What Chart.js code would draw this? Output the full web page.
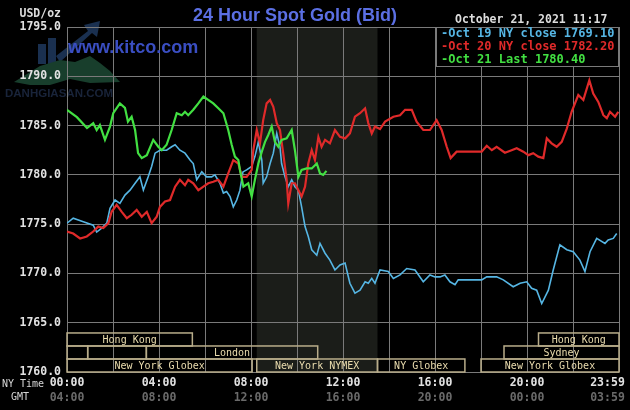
<!DOCTYPE html>
<html>
<head>
<meta charset="utf-8">
<script src="https://cdn.jsdelivr.net/npm/chart.js@4.4.1/dist/chart.umd.min.js"></script>
<style>
  html, body { margin: 0; padding: 0; background: #000; }
  canvas { display: block; }
</style>
</head>
<body>
<canvas id="gold-chart" width="630" height="410"></canvas>
<script>
// hours are New York time, prices in USD/oz
const oct19Hours = [0.00,0.27,0.71,1.14,1.29,1.51,1.73,1.87,2.09,2.30,2.52,2.74,2.96,3.17,3.32,3.53,3.68,3.83,4.04,4.33,4.55,4.70,4.91,5.13,5.35,5.49,5.64,5.86,6.07,6.29,6.43,6.65,6.80,6.94,7.09,7.23,7.38,7.52,7.65,7.81,8.03,8.17,8.32,8.47,8.53,8.68,8.83,8.97,9.12,9.26,9.33,9.48,9.62,9.77,9.91,10.06,10.20,10.35,10.49,10.64,10.86,11.00,11.22,11.43,11.65,11.87,12.09,12.30,12.52,12.74,12.96,13.10,13.25,13.39,13.61,13.97,14.19,14.48,14.77,15.13,15.49,15.78,16.00,16.22,16.43,16.65,16.87,17.01,18.03,18.25,18.68,18.97,19.40,19.70,19.99,20.20,20.42,20.64,20.93,21.14,21.43,21.73,22.01,22.30,22.52,22.74,23.03,23.39,23.53,23.75,23.90];
const oct19Prices = [1775.1,1775.6,1775.25,1774.9,1774.2,1774.6,1775.1,1776.6,1777.45,1777.1,1777.95,1778.45,1779.15,1779.8,1778.45,1779.8,1780.85,1782.2,1782.5,1782.5,1782.85,1783.05,1782.5,1782.2,1781.5,1781.15,1779.5,1780.3,1779.8,1779.8,1780.0,1779.15,1778.15,1778.3,1777.8,1776.75,1777.45,1778.45,1780.3,1780.5,1780.85,1781.85,1783.35,1781.5,1779.15,1779.8,1781.15,1782.2,1784.2,1782.85,1781.15,1779.8,1778.8,1779.5,1778.8,1778.45,1776.75,1774.75,1773.75,1772.4,1771.85,1773.05,1772.05,1771.35,1770.35,1770.85,1771.05,1769.0,1768.0,1768.3,1769.15,1769.0,1769.5,1769.0,1770.35,1770.2,1769.5,1769.85,1770.5,1770.35,1769.15,1769.85,1769.65,1769.65,1769.85,1769.15,1768.85,1769.35,1769.35,1769.65,1769.65,1769.35,1768.65,1769.0,1769.15,1768.5,1768.3,1766.95,1768.3,1770.35,1772.9,1772.4,1772.2,1771.35,1770.2,1772.2,1773.55,1773.05,1773.4,1773.55,1774.05];

const oct20Hours = [0.00,0.27,0.57,0.86,1.14,1.36,1.58,1.80,1.94,2.16,2.38,2.60,2.81,3.03,3.25,3.47,3.68,3.90,4.04,4.26,4.48,4.70,4.91,5.13,5.27,5.49,5.71,5.93,6.14,6.36,6.58,6.80,7.01,7.23,7.45,7.60,7.81,8.03,8.10,8.25,8.39,8.53,8.68,8.83,8.97,9.12,9.26,9.40,9.55,9.62,9.77,9.91,10.06,10.20,10.35,10.49,10.64,10.78,10.93,11.07,11.22,11.43,11.65,11.87,12.09,12.30,12.52,12.74,12.96,13.10,13.25,13.39,13.61,13.83,14.19,14.48,14.70,14.99,15.20,15.49,15.78,16.07,16.29,16.51,16.68,16.94,18.03,18.25,18.47,18.68,19.04,19.33,19.55,19.84,20.06,20.27,20.49,20.71,20.86,21.07,21.29,21.51,21.73,21.94,22.23,22.45,22.71,22.88,23.10,23.32,23.47,23.61,23.83,23.97];
const oct20Prices = [1774.25,1774.05,1773.55,1773.75,1774.25,1774.75,1774.6,1775.1,1776.25,1776.95,1776.25,1775.6,1775.95,1776.45,1775.75,1776.25,1775.1,1775.75,1776.75,1777.3,1777.45,1778.8,1779.5,1778.95,1779.5,1779.15,1778.45,1778.8,1779.15,1779.3,1779.5,1778.8,1780.15,1781.5,1781.15,1779.8,1779.8,1780.5,1782.5,1784.55,1783.2,1785.55,1787.25,1787.6,1786.9,1785.25,1784.55,1782.2,1779.5,1777.1,1779.15,1779.15,1778.45,1777.8,1778.8,1781.15,1782.5,1781.5,1783.85,1782.85,1783.55,1783.2,1784.55,1783.85,1783.7,1784.2,1785.9,1786.25,1786.75,1785.25,1784.2,1784.9,1784.65,1785.4,1785.9,1786.05,1786.6,1786.6,1785.4,1784.55,1784.55,1785.55,1784.55,1782.85,1781.7,1782.35,1782.35,1782.95,1782.5,1782.85,1782.25,1782.5,1782.7,1782.35,1782.0,1782.2,1781.85,1781.7,1783.7,1783.2,1782.85,1783.35,1784.7,1786.4,1788.1,1787.6,1789.6,1788.25,1787.4,1786.05,1785.75,1786.4,1785.9,1786.4];

const oct21Hours = [0.00,0.43,0.87,1.14,1.29,1.43,1.65,1.87,2.01,2.30,2.52,2.65,2.81,2.96,3.09,3.25,3.47,3.75,3.97,4.12,4.33,4.55,4.77,4.99,5.13,5.27,5.49,5.71,5.93,6.14,6.36,6.58,6.80,7.01,7.16,7.30,7.45,7.52,7.67,7.88,8.03,8.17,8.32,8.47,8.61,8.75,8.90,9.04,9.19,9.33,9.55,9.77,9.91,10.06,10.20,10.42,10.64,10.86,11.00,11.14,11.28];
const oct21Prices = [1786.6,1785.85,1784.75,1785.25,1784.55,1785.05,1783.55,1784.9,1786.25,1787.25,1786.8,1785.4,1785.9,1784.55,1782.2,1781.7,1782.0,1783.55,1782.85,1782.5,1783.05,1784.55,1786.25,1786.05,1786.4,1786.05,1786.6,1787.25,1787.95,1787.6,1787.25,1786.75,1786.25,1784.55,1783.05,1781.85,1781.5,1780.5,1778.8,1779.15,1777.8,1779.5,1781.15,1782.35,1783.35,1784.05,1784.9,1783.35,1782.85,1783.55,1783.7,1784.55,1782.5,1779.8,1780.5,1780.65,1780.65,1781.15,1780.15,1780.0,1780.4];

const seriesLabels = ['Oct 19 NY close 1769.10', 'Oct 20 NY close 1782.20', 'Oct 21 Last 1780.40'];

const tickHours = [0, 4, 8, 12, 16, 20, 23.5];   // last label is pulled inside the frame like the original
const nyTickLabels = ['00:00', '04:00', '08:00', '12:00', '16:00', '20:00', '23:59'];
const gmtTickLabels = ['04:00', '08:00', '12:00', '16:00', '20:00', '00:00', '03:59'];

// trading sessions strip: row 0 is the top row
const sessionNames = ['Hong Kong', 'Hong Kong', '', '', 'London', 'Sydney', 'New York Globex', 'New York NYMEX', 'NY Globex', 'New York Globex'];
const sessionRows  = [0, 0, 1, 1, 1, 1, 2, 2, 2, 2];
const sessionStart = [0, 20.5, 0, 0.9, 3.45, 19, 0, 8.25, 13.5, 18];
const sessionEnd   = [5.45, 24, 0.9, 3.45, 10.9, 24, 8.05, 13.5, 17.3, 24];
const nymexHours = [8.25, 13.5];

const MONO = '"DejaVu Sans Mono", "Liberation Mono", monospace';
const lineColors = ['#56b6e4', '#e02a2a', '#42e042'];

function pts(hours, prices) {
    return hours.map((h, i) => ({ x: h, y: prices[i] }));
}

const decor = {
    id: 'decor',
    beforeDraw(chart) {
        const { ctx, chartArea: a, scales: { x } } = chart;
        ctx.save();
        ctx.fillStyle = '#000';
        ctx.fillRect(0, 0, chart.width, chart.height);

        // faint watermark logo
        ctx.fillStyle = '#1a3050';
        ctx.fillRect(38, 44, 8, 20);
        ctx.fillRect(48, 38, 8, 26);
        ctx.beginPath();
        ctx.moveTo(56, 56); ctx.lineTo(88, 31); ctx.lineTo(84, 25); ctx.lineTo(100, 21);
        ctx.lineTo(97, 37); ctx.lineTo(92, 33); ctx.lineTo(60, 62); ctx.closePath();
        ctx.fill();
        ctx.fillStyle = '#183e2c';
        ctx.beginPath();
        ctx.moveTo(14, 82); ctx.lineTo(40, 66); ctx.lineTo(60, 60); ctx.lineTo(75, 62);
        ctx.lineTo(90, 56); ctx.lineTo(100, 63); ctx.lineTo(110, 71); ctx.lineTo(120, 82);
        ctx.lineTo(90, 83); ctx.lineTo(70, 79); ctx.lineTo(50, 85); ctx.lineTo(30, 85);
        ctx.closePath();
        ctx.fill();
        ctx.fillStyle = '#19243a';
        ctx.font = 'bold 11.5px "Liberation Sans", sans-serif';
        ctx.textBaseline = 'middle';
        ctx.fillText('DANHGIASAN.COM', 5, 94);

        // NYMEX session shading
        const x0 = x.getPixelForValue(nymexHours[0]);
        const x1 = x.getPixelForValue(nymexHours[1]);
        ctx.fillStyle = '#1b1d19';
        ctx.fillRect(x0, a.top, x1 - x0, a.bottom - a.top);
        ctx.restore();
    },
    beforeDatasetsDraw(chart) {
        const { ctx } = chart;
        ctx.save();
        ctx.fillStyle = '#3a4ec2';
        ctx.font = 'bold 18px "Liberation Sans", Arial, sans-serif';
        ctx.textBaseline = 'middle';
        ctx.fillText('www.kitco.com', 68, 48);
        ctx.restore();
    },
    afterDatasetsDraw(chart) {
        const { ctx, scales: { x, y } } = chart;
        const rowSpan = 1.32;
        ctx.save();
        ctx.strokeStyle = '#b9ad8a';
        ctx.lineWidth = 1.5;
        ctx.font = '10px ' + MONO;
        ctx.fillStyle = '#eadcae';
        ctx.textAlign = 'center';
        ctx.textBaseline = 'middle';
        for (let i = 0; i < sessionNames.length; i++) {
            const r = sessionRows[i];
            const top = y.getPixelForValue(1760 + (3 - r) * rowSpan);
            const bot = y.getPixelForValue(1760 + (2 - r) * rowSpan);
            const l = x.getPixelForValue(sessionStart[i]);
            const rt = x.getPixelForValue(sessionEnd[i]);
            ctx.strokeRect(l, top, rt - l, bot - top);
            if (sessionNames[i]) {
                ctx.fillText(sessionNames[i], (l + rt) / 2, (top + bot) / 2 + 0.5);
            }
        }
        ctx.restore();
    },
    afterDraw(chart) {
        const { ctx, chartArea: a } = chart;
        ctx.save();
        ctx.textBaseline = 'middle';

        // title and captions
        ctx.fillStyle = '#5b6fe3';
        ctx.font = 'bold 18px "Liberation Sans", Arial, sans-serif';
        ctx.textAlign = 'center';
        ctx.fillText('24 Hour Spot Gold (Bid)', 295, 16);

        ctx.font = 'bold 11.5px ' + MONO;
        ctx.fillStyle = '#dcdcdc';
        ctx.textAlign = 'right';
        ctx.fillText('USD/oz', 61, 14);
        ctx.textAlign = 'left';
        ctx.fillText('October 21, 2021 11:17', 455, 20);

        ctx.font = '10px ' + MONO;
        ctx.textAlign = 'center';
        ctx.fillStyle = '#d6d6d6';
        ctx.fillText('NY Time', 23, 384);
        ctx.fillText('GMT', 20, 397);

        // legend box
        const lx = a.right - 183, ly = a.top, lh = 39;
        ctx.fillStyle = '#000';
        ctx.fillRect(lx, ly, a.right - lx, lh);
        ctx.strokeStyle = '#7a7a7a';
        ctx.lineWidth = 1;
        ctx.strokeRect(lx + 0.5, ly + 0.5, a.right - lx - 1, lh);
        ctx.font = 'bold 12px ' + MONO;
        ctx.textAlign = 'left';
        chart.data.datasets.forEach((ds, i) => {
            ctx.fillStyle = ds.borderColor;
            ctx.fillText('-' + ds.label, lx + 5, ly + 7 + i * 12.7);
        });
        ctx.restore();
    }
};

const axisFont = { family: MONO, size: 11.5, weight: 'bold' };

new Chart(document.getElementById('gold-chart'), {
    type: 'line',
    data: {
        datasets: [
            { label: seriesLabels[0], data: pts(oct19Hours, oct19Prices), borderColor: lineColors[0], borderWidth: 1.6, order: 2 },
            { label: seriesLabels[1], data: pts(oct20Hours, oct20Prices), borderColor: lineColors[1], borderWidth: 2.2, order: 1 },
            { label: seriesLabels[2], data: pts(oct21Hours, oct21Prices), borderColor: lineColors[2], borderWidth: 2.2, order: 0 }
        ]
    },
    options: {
        responsive: false,
        animation: false,
        devicePixelRatio: 1,
        elements: { point: { radius: 0 }, line: { tension: 0 } },
        layout: { padding: { left: 0, right: 11, top: 27, bottom: 0 } },
        plugins: { legend: { display: false }, tooltip: { enabled: false } },
        scales: {
            x: {
                type: 'linear', position: 'bottom', weight: 0, min: 0, max: 24,
                grid: { display: false, drawTicks: false }, border: { display: false },
                afterBuildTicks: axis => { axis.ticks = tickHours.map(v => ({ value: v })); },
                afterFit: axis => { axis.height = 19; },
                ticks: { font: axisFont, color: '#e2e2e2', padding: 4, maxRotation: 0, autoSkip: false,
                    callback: (v, i) => nyTickLabels[i] }
            },
            x2: {
                type: 'linear', position: 'bottom', weight: 1, min: 0, max: 24,
                grid: { display: false, drawTicks: false }, border: { display: false },
                afterBuildTicks: axis => { axis.ticks = tickHours.map(v => ({ value: v })); },
                afterFit: axis => { axis.height = 19; },
                ticks: { font: axisFont, color: '#6a6a6a', padding: 0, maxRotation: 0, autoSkip: false,
                    callback: (v, i) => gmtTickLabels[i] }
            },
            xg: {
                type: 'linear', position: 'top', min: 0, max: 24,
                grid: { color: '#7a7a7a', lineWidth: 1, drawTicks: false },
                border: { display: false },
                afterFit: axis => { axis.height = 0; },
                ticks: { display: false, stepSize: 2 }
            },
            y: {
                min: 1760, max: 1795,
                grid: { color: '#7a7a7a', lineWidth: 1, drawTicks: false },
                border: { display: false },
                afterFit: axis => { axis.width = 67; },
                ticks: { stepSize: 5, font: axisFont, color: '#e2e2e2', padding: 6,
                    callback: v => v.toFixed(1) }
            }
        }
    },
    plugins: [decor]
});
</script>
</body>
</html>
